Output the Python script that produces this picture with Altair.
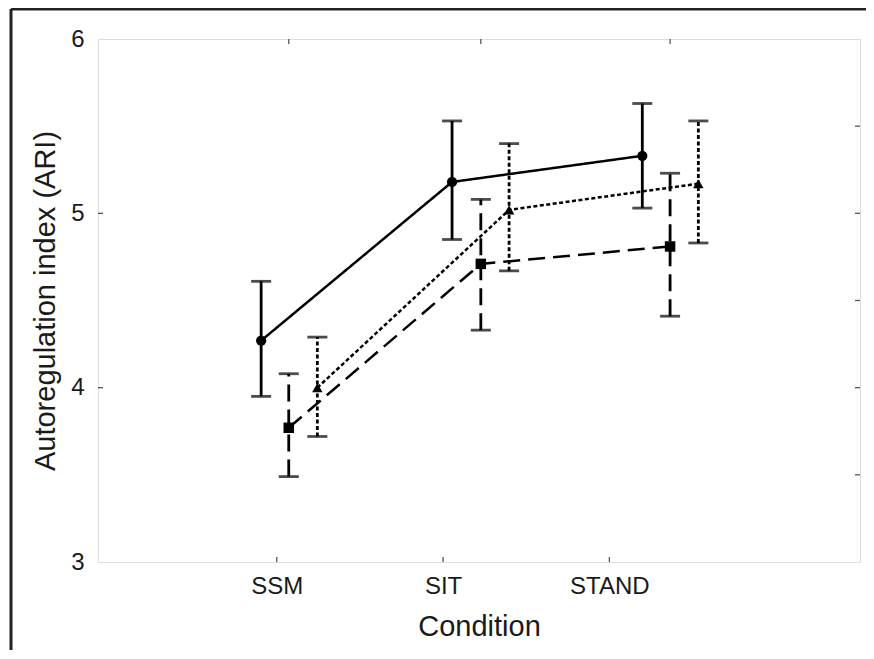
import altair as alt
import pandas as pd

# ---- data ----
categories = ["SSM", "SIT", "STAND"]
category_ticks = [1, 2, 3]                 # positions of the category labels on the x axis

series_names = ["circle", "square", "triangle"]
# x positions of the plotted means (in x-axis units), per series
x_circle = [0.906, 2.054, 3.198]
x_square = [1.072, 2.227, 3.365]
x_triangle = [1.244, 2.397, 3.535]

mean_circle = [4.27, 5.18, 5.33]
lo_circle = [3.95, 4.85, 5.03]
hi_circle = [4.61, 5.53, 5.63]

mean_square = [3.77, 4.71, 4.81]
lo_square = [3.49, 4.33, 4.41]
hi_square = [4.08, 5.08, 5.23]

mean_triangle = [4.00, 5.02, 5.17]
lo_triangle = [3.72, 4.67, 4.83]
hi_triangle = [4.29, 5.40, 5.53]

y_labels = [3, 4, 5, 6]
y_left_ticks = [4, 5]
y_right_ticks = [3.5, 4, 4.5, 5, 5.5]

# ---- styling ----
W, H = 762, 523
FONT = "Liberation Sans"
TXT = "#1a1a1a"
dashes = {"circle": [1, 0], "square": [17, 8], "triangle": [4, 2.5]}
shapes = {"circle": "circle", "square": "square", "triangle": "triangle-up"}
sizes = {"circle": 105, "square": 110, "triangle": 110}

xs = {"circle": x_circle, "square": x_square, "triangle": x_triangle}
ms = {"circle": mean_circle, "square": mean_square, "triangle": mean_triangle}
los = {"circle": lo_circle, "square": lo_square, "triangle": lo_triangle}
his = {"circle": hi_circle, "square": hi_square, "triangle": hi_triangle}

xscale = alt.Scale(domain=[-0.075, 4.507], nice=False, zero=False)
yscale = alt.Scale(domain=[3, 6], nice=False, zero=False)

label_expr = " : ".join(
    f"datum.value == {v} ? '{c}'" for v, c in zip(category_ticks, categories)
) + " : ''"

xaxis = alt.Axis(values=category_ticks, labelExpr=label_expr, title="Condition",
                 ticks=False, domain=False, grid=False, labelPadding=12,
                 labelFontSize=24, titleFontSize=29, titlePadding=14,
                 labelFont=FONT, titleFont=FONT, labelColor=TXT, titleColor=TXT,
                 titleFontWeight="normal")
yaxis = alt.Axis(values=y_labels, format="d", title="Autoregulation index (ARI)",
                 ticks=False, domain=False, grid=False, labelPadding=14,
                 labelFontSize=24, titleFontSize=29, titlePadding=10,
                 labelFont=FONT, titleFont=FONT, labelColor=TXT, titleColor=TXT,
                 titleFontWeight="normal")


def X(field):
    return alt.X(field, type="quantitative", scale=xscale, axis=xaxis)


def Y(field):
    return alt.Y(field, type="quantitative", scale=yscale, axis=yaxis)


layers = []
for s in series_names:
    df = pd.DataFrame({"x": xs[s], "y": ms[s], "lo": los[s], "hi": his[s]})
    base = alt.Chart(df)
    layers.append(base.mark_line(color="black", strokeWidth=2.5, strokeDash=dashes[s])
                  .encode(x=X("x"), y=Y("y")))
    layers.append(base.mark_rule(color="black", strokeWidth=2.8, strokeDash=dashes[s])
                  .encode(x=X("x"), y=Y("lo"), y2="hi"))
    cap_dash = dashes[s] if s == "triangle" else [1, 0]
    for f in ["lo", "hi"]:
        layers.append(base.mark_tick(color="black", thickness=2.8, size=20,
                                     orient="horizontal", strokeDash=cap_dash)
                      .encode(x=X("x"), y=Y(f)))
    layers.append(base.mark_point(shape=shapes[s], filled=True, color="black",
                                  size=sizes[s], opacity=1)
                  .encode(x=X("x"), y=Y("y")))

# inward axis ticks on all four sides
tick_col = "#555555"
left_t = alt.Chart(pd.DataFrame({"y": y_left_ticks})).mark_rule(color=tick_col, strokeWidth=1.3).encode(
    y=Y("y"), x=alt.value(0), x2=alt.value(5))
right_t = alt.Chart(pd.DataFrame({"y": y_right_ticks})).mark_rule(color=tick_col, strokeWidth=1.3).encode(
    y=Y("y"), x=alt.value(W), x2=alt.value(W - 5))
bottom_t = alt.Chart(pd.DataFrame({"x": category_ticks})).mark_rule(color=tick_col, strokeWidth=1.3).encode(
    x=X("x"), y=alt.value(H), y2=alt.value(H - 5))
top_t = alt.Chart(pd.DataFrame({"x": x_square})).mark_rule(color=tick_col, strokeWidth=1.3).encode(
    x=X("x"), y=alt.value(0), y2=alt.value(5))

# outer frame (top and left edges of the figure)
one = pd.DataFrame({"a": [0]})
frame_top = alt.Chart(one).mark_rule(color="#222222", strokeWidth=3).encode(
    x=alt.value(-87), x2=alt.value(775), y=alt.value(-30))
frame_left = alt.Chart(one).mark_rule(color="#222222", strokeWidth=3).encode(
    x=alt.value(-87), y=alt.value(-30), y2=alt.value(620))

chart = alt.layer(*layers, left_t, right_t, bottom_t, top_t, frame_top, frame_left).properties(
    width=W, height=H,
    autosize=alt.AutoSizeParams(type="none"),
    padding={"left": 90, "top": 31, "right": 6, "bottom": 88},
).configure_view(stroke="#555555", strokeWidth=1.6).configure(background="white")

chart.save("out.html", embed_options={"renderer": "svg", "actions": False})
